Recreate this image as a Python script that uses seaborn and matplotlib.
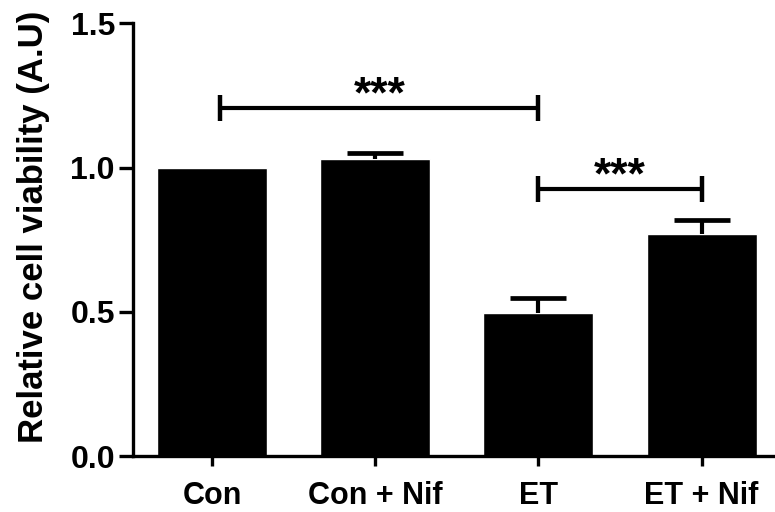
import numpy as np
import pandas as pd
import matplotlib
matplotlib.use("Agg")
import matplotlib.pyplot as plt
import seaborn as sns

groups = ["Con", "Con + Nif", "ET", "ET + Nif"]
viability = [1.0, 1.03, 0.495, 0.77]
sem = [0.0, 0.02, 0.053, 0.047]

# significance brackets: (left group, right group, bracket height, label)
brackets = [(0.05, 2, 1.205, "***"), (2, 3, 0.925, "***")]

sns.set_style("ticks")
plt.rcParams["font.family"] = ["Liberation Sans", "DejaVu Sans"]
plt.rcParams["font.weight"] = "bold"
plt.rcParams.update({"text.color": "black", "axes.labelcolor": "black",
                     "xtick.color": "black", "ytick.color": "black"})

df = pd.DataFrame({"group": groups, "viability": viability})

fig = plt.figure(figsize=(7.75, 5.12), dpi=100)
ax = fig.add_axes([0.1716, 0.109, 0.8284, 0.8455])

sns.barplot(data=df, x="group", y="viability", color="black", width=0.675,
            errorbar=None, ax=ax, saturation=1)

# one-sided (upper) error bars
x = np.arange(len(groups))
err = np.array(sem)
has_err = err > 0
_, caps, _ = ax.errorbar(x[has_err], np.array(viability)[has_err],
                         yerr=[np.zeros(has_err.sum()), err[has_err]],
                         fmt="none", ecolor="black", elinewidth=3, capsize=20, capthick=3.4)
caps[0].set_visible(False)

for x0, x1, h, lab in brackets:
    ax.plot([x0, x1], [h, h], color="black", lw=3, solid_capstyle="butt")
    for xx in (x0, x1):
        ax.plot([xx, xx], [h - 0.045, h + 0.045], color="black", lw=3.2, solid_capstyle="butt")
    ax.text((x0 + x1) / 2, h + 0.002, lab, ha="center", va="baseline",
            fontsize=32, fontweight="bold", color="black")

ax.set_ylim(0, 1.5)
ax.set_xlim(-0.485, 3.45)
ax.set_yticks([0.0, 0.5, 1.0, 1.5])
ax.set_yticklabels(["0.0", "0.5", "1.0", "1.5"])
ax.set_xlabel("")
ax.set_ylabel("Relative cell viability (A.U)", fontsize=25, fontweight="bold", color="black")
ax.yaxis.set_label_coords(-0.129, 0.53)
ax.tick_params(axis="y", labelsize=23, width=2.4, length=10, pad=3, color="black", labelcolor="black")
ax.tick_params(axis="x", labelsize=22, width=2.4, length=7, pad=11, color="black", labelcolor="black")
for lab in ax.get_xticklabels() + ax.get_yticklabels():
    lab.set_fontweight("bold")
sns.despine(ax=ax)
for s in ("left", "bottom"):
    ax.spines[s].set_linewidth(2.4)
    ax.spines[s].set_color("black")

fig.savefig("out.png", dpi=100)
